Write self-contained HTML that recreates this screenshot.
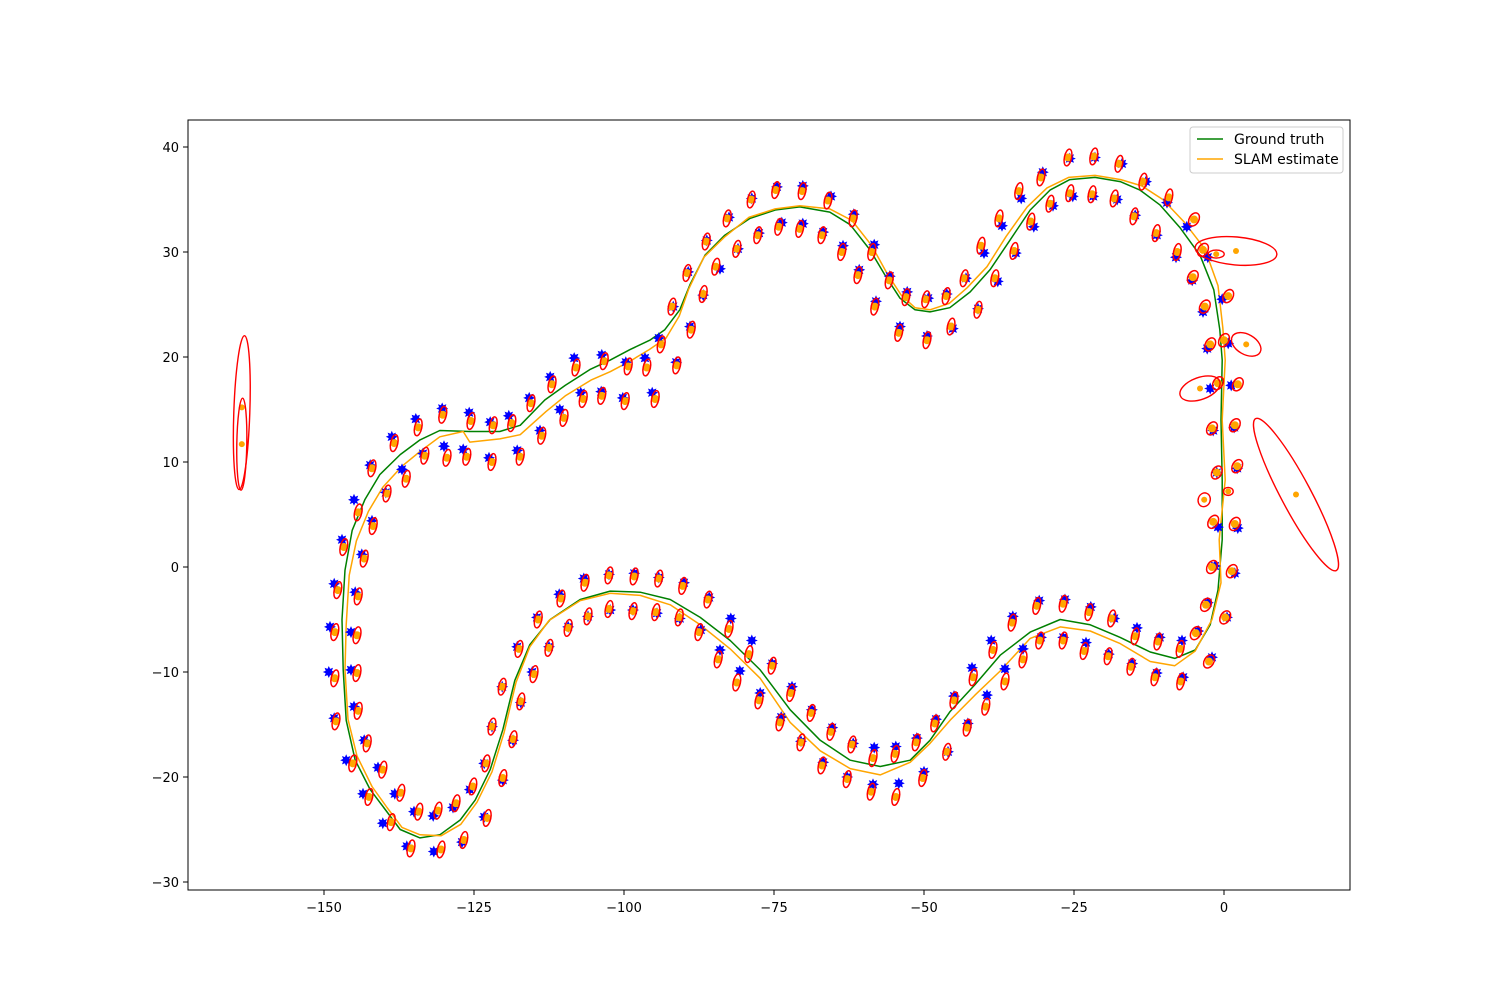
<!DOCTYPE html>
<html>
<head>
<meta charset="utf-8">
<style>
  html, body { margin: 0; padding: 0; background: #fff; }
  svg { display: block; font-family: "DejaVu Sans", "Liberation Sans", sans-serif; }
</style>
</head>
<body>
<svg id="chart" width="1500" height="1000" viewBox="0 0 1500 1000" xmlns="http://www.w3.org/2000/svg">
  <rect x="0" y="0" width="1500" height="1000" fill="#fff"/>
  <defs><clipPath id="plotclip"><rect x="188" y="120" width="1162" height="770"/></clipPath></defs>
  <g id="plot" clip-path="url(#plotclip)"></g>
  <rect x="188" y="120" width="1162" height="770" fill="none" stroke="#000" stroke-width="1"/>
  <g id="xticks"></g>
  <g id="yticks"></g>
  <g>
    <rect x="1190" y="127" width="153" height="46" rx="3" fill="#fff" fill-opacity="0.8" stroke="#ccc" stroke-width="1"/>
    <line x1="1197" y1="139" x2="1223" y2="139" stroke="#008000" stroke-width="1.5"/>
    <text x="1234" y="144" font-size="14" fill="#000">Ground truth</text>
    <line x1="1197" y1="159" x2="1223" y2="159" stroke="#FFA500" stroke-width="1.5"/>
    <text x="1234" y="164" font-size="14" fill="#000">SLAM estimate</text>
  </g>
</svg>
<script>
// ---- data ----
const xTicks = [-150, -125, -100, -75, -50, -25, 0];
const yTicks = [-30, -20, -10, 0, 10, 20, 30, 40];

const gtX = [-0.7,-1.7,-4.0,-7.3,-10.7,-14.0,-17.3,-21.5,-25.7,-29.0,-32.3,-35.7,-39.0,-42.3,-45.7,-49.0,-51.5,-54.0,-56.5,-59.0,-62.3,-65.7,-70.7,-74.8,-79.0,-83.2,-86.5,-89.0,-90.7,-93.2,-95.7,-99.0,-102.3,-105.7,-109.8,-113.2,-117.3,-120.7,-125.7,-130.7,-134.0,-137.3,-140.7,-143.2,-145.3,-146.5,-147.0,-146.8,-146.3,-144.8,-142.3,-139.8,-137.3,-134.0,-130.7,-127.3,-124.8,-122.3,-120.2,-118.2,-115.7,-112.3,-107.3,-102.3,-97.3,-92.3,-87.3,-82.3,-77.3,-72.3,-67.3,-62.3,-57.3,-52.3,-49.0,-45.7,-41.5,-37.3,-32.3,-27.3,-22.3,-17.3,-12.3,-8.2,-4.8,-2.3,-1.0,-0.3,-0.3,-0.5,-0.3,-0.7];
const gtY = [22.6,26.4,29.7,32.3,34.5,35.9,36.7,37.1,36.9,35.9,34.0,31.1,28.3,26.2,24.7,24.3,24.5,25.6,27.8,30.2,32.6,33.8,34.3,34.0,33.2,31.6,29.7,26.9,24.5,22.6,21.6,20.7,19.7,18.8,17.3,15.9,13.5,12.9,12.9,13.0,12.1,10.7,8.8,6.4,3.5,-0.3,-5.0,-9.8,-14.6,-18.4,-21.2,-23.1,-25.0,-25.8,-25.5,-24.1,-22.2,-19.3,-15.5,-10.8,-7.4,-5.0,-3.1,-2.3,-2.4,-3.1,-4.8,-7.0,-9.8,-13.6,-16.5,-18.4,-19.0,-18.4,-16.5,-13.8,-11.2,-8.4,-6.2,-5.0,-5.5,-6.7,-8.1,-8.7,-7.9,-5.5,-2.2,2.6,8.3,14.0,19.7,22.6];

const slamX = [-0.2,-1.0,-3.2,-6.7,-10.2,-13.7,-17.2,-21.5,-25.9,-29.5,-32.8,-36.3,-39.5,-42.8,-45.8,-49.0,-51.5,-53.8,-56.2,-58.7,-62.0,-65.7,-70.7,-74.8,-79.2,-83.3,-86.7,-89.2,-90.8,-93.0,-95.8,-99.0,-102.3,-105.5,-109.8,-113.0,-117.3,-120.7,-125.7,-126.8,-130.7,-134.0,-137.0,-140.2,-142.6,-144.6,-145.8,-146.3,-146.5,-146.0,-144.5,-142.0,-139.5,-137.0,-134.0,-130.5,-127.2,-124.5,-122.0,-120.0,-118.0,-115.7,-112.5,-107.3,-102.3,-97.3,-92.3,-87.3,-82.3,-77.3,-72.3,-67.3,-62.3,-57.3,-52.3,-49.0,-45.5,-41.5,-37.3,-32.3,-27.3,-22.3,-17.3,-12.3,-8.2,-4.8,-2.0,-0.5,-0.8,0.2,-0.3,0.2,-0.2];
const slamY = [22.8,26.8,30.3,32.9,35.0,36.3,36.9,37.3,37.1,36.1,34.3,31.5,28.6,26.6,25.1,24.5,24.7,25.9,28.0,30.6,33.0,34.1,34.4,34.1,33.3,31.4,29.5,26.5,23.9,21.8,20.7,19.6,18.6,17.8,16.3,14.8,12.6,12.2,11.9,12.9,12.4,11.0,9.6,7.6,5.3,2.5,-0.8,-5.5,-9.8,-14.5,-18.0,-20.9,-22.9,-24.8,-25.5,-25.6,-24.5,-22.4,-19.5,-15.8,-11.0,-7.6,-5.1,-3.2,-2.5,-2.7,-3.6,-5.5,-7.8,-10.6,-14.8,-17.5,-19.2,-19.8,-18.6,-16.8,-14.5,-12.2,-9.9,-6.8,-5.7,-6.1,-7.3,-9.0,-9.4,-8.0,-5.0,-1.5,2.6,8.3,14.0,19.7,22.8];

const lmTrueX = [-147.0,-143.7,-145.0,-142.0,-142.3,-139.7,-138.7,-137.0,-134.7,-133.5,-130.3,-130.0,-125.8,-126.8,-122.3,-122.5,-119.2,-117.8,-115.8,-114.0,-112.3,-110.7,-108.3,-107.2,-103.7,-103.8,-99.7,-100.2,-96.5,-95.3,-94.2,-91.3,-89.0,-91.8,-86.8,-89.3,-84.0,-86.2,-81.0,-82.5,-77.5,-78.7,-73.7,-74.5,-70.2,-70.2,-66.8,-65.5,-61.7,-63.5,-58.3,-60.8,-55.7,-58.0,-52.8,-54.0,-49.3,-49.5,-46.2,-45.2,-43.0,-41.0,-40.0,-37.7,-37.0,-34.7,-33.8,-31.7,-30.2,-28.5,-25.7,-25.2,-21.5,-21.8,-17.0,-17.8,-13.0,-14.8,-9.5,-11.2,-6.2,-8.0,-2.7,-5.3,-0.3,-3.5,-2.8,0.7,-2.3,1.2,-1.8,1.7,-1.2,2.2,-1.0,2.3,-1.5,1.8,-2.7,0.5,-4.3,-2.0,-7.0,-6.8,-10.7,-11.2,-14.5,-15.3,-18.3,-19.2,-22.2,-23.0,-26.5,-26.8,-30.8,-30.5,-35.2,-33.5,-38.8,-36.5,-42.0,-39.5,-45.0,-42.7,-48.0,-46.0,-51.2,-50.0,-54.7,-54.2,-58.3,-58.5,-61.8,-62.8,-65.3,-66.8,-68.7,-70.5,-72.0,-73.8,-75.3,-77.3,-78.7,-80.7,-82.2,-84.0,-85.8,-87.2,-90.0,-90.7,-94.2,-94.5,-98.3,-98.5,-102.5,-102.3,-106.7,-106.0,-110.8,-109.3,-114.5,-112.5,-117.8,-115.3,-120.3,-117.2,-122.0,-118.5,-123.3,-120.2,-125.7,-123.3,-128.5,-127.0,-131.8,-131.7,-135.0,-136.2,-138.2,-140.2,-141.0,-143.5,-143.3,-146.3,-145.0,-148.3,-145.5,-149.2,-145.5,-149.0,-144.8,-148.3];
const lmTrueY = [2.6,1.2,6.4,4.4,9.7,7.1,12.4,9.3,14.1,10.8,15.1,11.5,14.7,11.2,13.8,10.4,14.4,11.1,16.1,13.0,18.1,15.0,19.9,16.6,20.2,16.7,19.5,16.1,19.9,16.6,21.8,19.5,22.9,24.8,25.9,28.1,28.4,31.1,30.3,33.3,31.8,35.1,32.8,36.2,32.7,36.3,31.9,35.3,33.6,30.6,30.7,28.3,27.7,25.3,26.2,22.9,25.6,22.0,26.0,22.7,27.5,24.6,29.9,27.2,32.5,29.9,35.1,32.4,37.6,34.4,38.9,35.3,39.0,35.3,38.4,35.0,36.7,33.5,34.7,31.6,32.4,29.5,29.5,27.3,25.5,24.3,20.8,21.3,17.0,17.3,13.0,13.3,9.0,9.4,3.8,3.7,0.1,-0.6,-3.4,-4.8,-6.1,-8.6,-7.0,-10.5,-6.7,-10.1,-5.8,-9.2,-4.9,-8.3,-3.8,-7.2,-3.1,-6.7,-3.2,-6.7,-4.7,-7.8,-7.0,-9.7,-9.6,-12.2,-12.3,-14.9,-14.5,-17.6,-16.3,-19.5,-17.1,-20.6,-17.2,-20.7,-16.8,-20.0,-15.3,-18.6,-13.6,-16.6,-11.4,-14.3,-9.2,-12.0,-7.0,-9.9,-4.9,-7.9,-2.9,-6.0,-1.5,-4.9,-1.0,-4.4,-0.6,-4.1,-0.7,-4.1,-1.1,-4.7,-2.6,-5.7,-4.8,-7.6,-7.6,-10.0,-11.4,-12.9,-15.2,-16.5,-18.7,-20.3,-21.2,-23.8,-22.9,-26.2,-23.7,-27.1,-23.3,-26.6,-21.6,-24.4,-19.1,-21.6,-16.5,-18.4,-13.3,-14.4,-9.8,-10.0,-6.2,-5.7,-2.4,-1.6];

const lmEstX = [-146.7,-143.3,-144.3,-141.8,-142.0,-139.5,-138.3,-136.3,-134.3,-133.2,-130.2,-129.5,-125.5,-126.2,-121.8,-122.0,-118.7,-117.3,-115.5,-113.7,-112.0,-110.0,-108.0,-106.8,-103.3,-103.7,-99.3,-99.8,-96.2,-94.8,-93.8,-91.2,-88.8,-92.0,-86.8,-89.5,-84.7,-86.3,-81.2,-82.8,-77.7,-78.8,-74.2,-74.7,-70.7,-70.3,-67.0,-66.0,-61.8,-63.7,-58.7,-61.0,-55.8,-58.2,-53.0,-54.2,-49.7,-49.5,-46.3,-45.5,-43.3,-41.0,-40.5,-38.2,-37.5,-35.0,-34.2,-32.2,-30.5,-29.0,-26.0,-25.7,-21.7,-22.0,-17.5,-18.3,-13.5,-15.0,-9.2,-11.3,-5.0,-7.8,-3.5,-5.2,0.7,-3.2,-2.3,0.0,-1.0,2.3,-2.0,1.8,-1.2,2.2,-1.8,1.8,-2.0,1.3,-3.0,0.2,-4.7,-2.5,-7.3,-7.2,-11.0,-11.5,-14.8,-15.5,-18.7,-19.3,-22.5,-23.3,-26.8,-26.8,-31.2,-30.7,-35.3,-33.5,-38.5,-36.5,-41.8,-39.7,-45.0,-42.8,-48.2,-46.2,-51.3,-50.2,-54.8,-54.7,-58.5,-58.8,-62.0,-62.8,-65.5,-67.0,-68.8,-70.5,-72.2,-74.0,-75.3,-77.5,-79.2,-81.2,-82.5,-84.3,-86.0,-87.5,-90.2,-90.8,-94.2,-94.7,-98.3,-98.5,-102.5,-102.5,-106.5,-106.0,-110.5,-109.3,-114.3,-112.5,-117.5,-115.0,-120.3,-117.2,-122.0,-118.5,-123.0,-120.2,-125.2,-122.8,-128.0,-126.7,-131.0,-130.5,-134.2,-135.5,-137.2,-138.8,-140.2,-142.5,-142.8,-145.2,-144.3,-148.0,-144.5,-148.2,-144.5,-148.2,-144.3,-147.7];
const lmEstY = [1.9,0.8,5.2,3.9,9.4,7.0,11.8,8.4,13.3,10.6,14.5,10.4,13.9,10.5,13.5,10.0,13.7,10.5,15.6,12.5,17.4,14.2,19.0,16.0,19.6,16.3,19.1,15.8,19.0,16.0,21.2,19.2,22.6,24.8,26.0,28.0,28.6,31.0,30.3,33.2,31.6,35.0,32.4,35.9,32.2,35.8,31.6,34.9,33.2,30.0,30.0,27.8,27.3,24.8,25.7,22.3,25.5,21.6,25.8,22.9,27.5,24.5,30.6,27.5,33.2,30.1,35.8,32.9,37.1,34.6,39.0,35.6,39.1,35.5,38.4,35.1,36.7,33.4,35.2,31.8,33.1,30.0,30.2,27.6,25.8,24.8,21.2,21.6,17.5,17.4,13.2,13.5,9.0,9.6,4.3,4.1,0.0,-0.4,-3.6,-4.8,-6.3,-9.0,-7.8,-10.9,-7.1,-10.5,-6.6,-9.5,-4.9,-8.5,-4.3,-8.0,-3.5,-7.0,-3.7,-7.0,-5.3,-8.8,-7.9,-10.9,-10.5,-13.3,-12.7,-15.3,-14.9,-17.6,-16.7,-20.1,-17.8,-21.9,-18.2,-21.4,-16.9,-20.2,-15.7,-18.9,-13.9,-16.7,-12.0,-14.8,-9.4,-12.7,-8.3,-11.0,-5.9,-8.8,-3.1,-6.2,-1.8,-4.8,-1.1,-4.3,-0.9,-4.2,-0.8,-4.0,-1.5,-4.7,-3.0,-5.8,-5.0,-7.7,-7.8,-10.2,-11.4,-12.8,-15.2,-16.4,-18.7,-20.1,-20.9,-23.9,-22.5,-26.0,-23.2,-26.9,-23.3,-26.8,-21.5,-24.3,-19.3,-21.9,-16.8,-18.7,-13.7,-14.7,-10.1,-10.6,-6.5,-6.2,-2.8,-2.2];

// landmarks whose estimate has no nearby true position / large uncertainty
const extraX = [0.7, -3.3, 2.0, -1.3, 3.7, -4.0, 12.0, -163.7, -163.7];
const extraY = [7.2, 6.4, 30.1, 29.8, 21.2, 17.0, 6.9, 14.7, 11.7];
const extraRx = [5, 6, 41, 8, 16, 21, 86, 8, 5];
const extraRy = [4, 7, 14, 4, 10, 11, 15, 77, 46];
const extraRot = [0, 20, 5, 0, 30, -20, 62, 2, 1];
const extraDotY = [7.2, 6.4, 30.1, 29.8, 21.2, 17.0, 6.9, 15.2, 11.7];

// ---- axes ----
const X0 = 1224, XS = 6, Y0 = 567, YS = 10.5;
function sx(v) { return X0 + v * XS; }
function sy(v) { return Y0 - v * YS; }

const NS = "http://www.w3.org/2000/svg";
function mk(tag, attrs, parent) {
  const e = document.createElementNS(NS, tag);
  for (const k in attrs) e.setAttribute(k, attrs[k]);
  parent.appendChild(e);
  return e;
}
const plot = document.getElementById("plot");
const xg = document.getElementById("xticks");
const yg = document.getElementById("yticks");

function fmt(v) { return v < 0 ? "\u2212" + Math.abs(v) : String(v); }

xTicks.forEach(function (t) {
  const x = sx(t);
  const l = mk("line", { x1: x, y1: 890, x2: x, y2: 895, stroke: "#000", "stroke-width": 1 }, xg);
  
  
  const tx = mk("text", { x: x, y: 912, "font-size": 13, "text-anchor": "middle", fill: "#000" }, xg);
  tx.textContent = fmt(t);
  
  
});
yTicks.forEach(function (t) {
  const y = sy(t);
  const l = mk("line", { x1: 183, y1: y, x2: 188, y2: y, stroke: "#000", "stroke-width": 1 }, yg);
  
  
  const tx = mk("text", { x: 179, y: y + 5, "font-size": 13, "text-anchor": "end", fill: "#000" }, yg);
  tx.textContent = fmt(t);
  
  
});

// ---- paths ----
function pathD(xs, ys) {
  return xs.map(function (v, i) { return (i ? "L" : "M") + sx(v).toFixed(1) + "," + sy(ys[i]).toFixed(1); }).join(" ");
}
const gtPath = mk("path", { d: pathD(gtX, gtY), fill: "none", stroke: "#008000", "stroke-width": 1.5, "stroke-linejoin": "round" }, plot);


const slamPath = mk("path", { d: pathD(slamX, slamY), fill: "none", stroke: "#FFA500", "stroke-width": 1.5, "stroke-linejoin": "round" }, plot);



// ---- true landmarks (stars) ----
function starPts(cx, cy) {
  const pts = [];
  for (let i = 0; i < 16; i++) {
    const r = i % 2 ? 3.4 : 6;
    const a = Math.PI * i / 8 - Math.PI / 2;
    pts.push((cx + r * Math.cos(a)).toFixed(1) + "," + (cy + r * Math.sin(a)).toFixed(1));
  }
  return pts.join(" ");
}
const starG = mk("g", {}, plot);


lmTrueX.forEach(function (v, i) {
  const s = mk("polygon", { points: starPts(sx(v), sy(lmTrueY[i])), fill: "#0000FF" }, starG);
  
  
});

// ---- estimated landmarks ----
const estG = mk("g", {}, plot);


lmEstX.forEach(function (v, i) {
  const cx = sx(v), cy = sy(lmEstY[i]);
  const d = mk("circle", { cx: cx, cy: cy, r: 4, fill: "#FFA500" }, estG);
  
  
});
lmEstX.forEach(function (v, i) {
  const cx = sx(v), cy = sy(lmEstY[i]);
  const right = v > -6;
  const rx = right ? 4.8 : 3.6, ry = right ? 7 : 8.5, rot = right ? 30 : 12;
  const e = mk("ellipse", { cx: cx, cy: cy, rx: rx, ry: ry, fill: "none", stroke: "#FF0000", "stroke-width": 1.5, transform: "rotate(" + rot + " " + cx + " " + cy + ")" }, estG);
  
  
});
extraX.forEach(function (v, i) {
  const cx = sx(v), cy = sy(extraY[i]);
  const d = mk("circle", { cx: cx, cy: sy(extraDotY[i]), r: 3, fill: "#FFA500" }, estG);
  
  
  const e = mk("ellipse", { cx: cx, cy: cy, rx: extraRx[i], ry: extraRy[i], fill: "none", stroke: "#FF0000", "stroke-width": 1.4, transform: "rotate(" + extraRot[i] + " " + cx + " " + cy + ")" }, estG);
  
  
});
</script>
</body>
</html>
